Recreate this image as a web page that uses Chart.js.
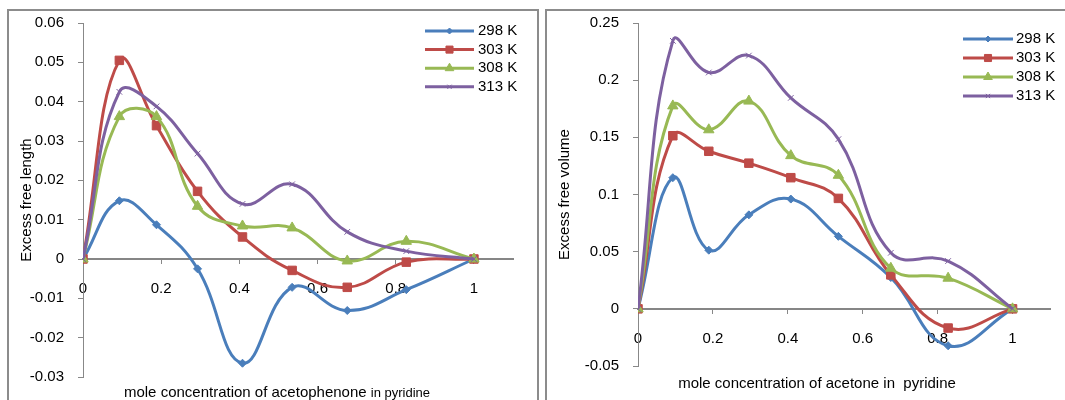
<!DOCTYPE html>
<html>
<head>
<meta charset="utf-8">
<script src="https://cdn.jsdelivr.net/npm/chart.js"></script>
<style>
  body {
    margin: 0;
    background: #fff;
    width: 1065px;
    height: 400px;
    overflow: hidden;
    position: relative;
    font-family: "Liberation Sans", Arial, sans-serif;
  }
  .frame {
    position: absolute;
    border: 2px solid #8c8c8c;
    border-bottom: none;
  }
  #frame-left { left: 7px; top: 9px; width: 528px; height: 400px; }
  #frame-right { left: 545px; top: 9px; width: 600px; height: 400px; }
  canvas { position: absolute; top: 0; }
  #chart-left { left: 0; }
  #chart-right { left: 540px; }
  .xtitle {
    position: absolute;
    font-size: 15px;
    white-space: nowrap;
    transform: translate(-50%, -50%);
    color: #000;
  }
</style>
</head>
<body>
<div class="frame" id="frame-left"></div>
<div class="frame" id="frame-right"></div>
<canvas id="chart-left" width="540" height="400"></canvas>
<canvas id="chart-right" width="525" height="400"></canvas>
<div class="xtitle" style="left:277px; top:391px;">mole concentration of acetophenone <span style="font-size:13px">in pyridine</span></div>
<div class="xtitle" style="left:817px; top:382px;">mole concentration of acetone in&nbsp; pyridine</div>

<script>
// left chart: excess free length vs mole fraction of acetophenone
const xLeft = [0, 0.093, 0.188, 0.293, 0.408, 0.535, 0.676, 0.827, 1];
const length298 = [0, 0.0148, 0.0087, -0.0025, -0.0265, -0.0072, -0.0131, -0.0078, 0];
const length303 = [0, 0.0505, 0.0339, 0.0172, 0.0056, -0.0029, -0.0072, -0.0008, 0];
const length308 = [0, 0.0362, 0.0362, 0.0134, 0.0084, 0.0079, -0.0005, 0.0045, 0];
const length313 = [0, 0.0425, 0.0388, 0.0268, 0.014, 0.019, 0.0069, 0.002, 0];

// right chart: excess free volume vs mole fraction of acetone
const xRight = [0, 0.093, 0.189, 0.296, 0.408, 0.535, 0.675, 0.828, 1];
const volume298 = [0, 0.1147, 0.0513, 0.0822, 0.096, 0.0634, 0.0274, -0.0323, 0];
const volume303 = [0, 0.1514, 0.1378, 0.1274, 0.1147, 0.0966, 0.0297, -0.0168, 0];
const volume308 = [0, 0.1775, 0.1566, 0.1817, 0.134, 0.1168, 0.0355, 0.0268, 0];
const volume313 = [0, 0.2344, 0.2067, 0.2215, 0.1845, 0.1484, 0.049, 0.0418, 0];

const seriesNames = ["298 K", "303 K", "308 K", "313 K"];

const lineColors = ["#4A7EBB", "#BE4B48", "#98B954", "#7D60A0"];
const pointStyles = ["rectRot", "rect", "triangle", "crossRot"];
const pointSizes = [4, 6, 6, 4];
const FONT = '"Liberation Sans", Arial, sans-serif';

Chart.defaults.font.family = FONT;
Chart.defaults.font.size = 15;
Chart.defaults.color = "#000";

const fmt = (v) => String(Math.round(v * 1000) / 1000);

// Excel style legend, stacked in the top right corner
const sketchLegend = {
  id: "sketchLegend",
  afterDraw(chart, args, opts) {
    const ctx = chart.ctx;
    ctx.save();
    chart.data.datasets.forEach((ds, i) => {
      const y = opts.top + i * opts.rowGap;
      ctx.strokeStyle = ds.borderColor;
      ctx.lineWidth = 3;
      ctx.beginPath();
      ctx.moveTo(opts.lineStart, y);
      ctx.lineTo(opts.lineStart + opts.lineLength, y);
      ctx.stroke();
      if (Chart.helpers && Chart.helpers.drawPoint) {
        ctx.fillStyle = ds.borderColor;
        ctx.lineWidth = 1;
        Chart.helpers.drawPoint(
          ctx,
          { pointStyle: ds.pointStyle, radius: ds.pointRadius - 1, rotation: 0, borderWidth: 1 },
          opts.lineStart + opts.lineLength / 2,
          y
        );
      }
      ctx.fillStyle = "#000";
      ctx.font = "15px " + FONT;
      ctx.textBaseline = "middle";
      ctx.textAlign = "left";
      ctx.fillText(ds.label, opts.textX, y);
    });
    ctx.restore();
  },
};

function makeDatasets(xs, seriesList) {
  return seriesList.map((ys, i) => ({
    label: seriesNames[i],
    data: xs.map((x, j) => ({ x: x, y: ys[j] })),
    borderColor: lineColors[i],
    backgroundColor: lineColors[i],
    borderWidth: 3,
    pointStyle: pointStyles[i],
    pointRadius: pointSizes[i],
    pointBorderWidth: 1,
    pointBackgroundColor: lineColors[i],
    pointBorderColor: lineColors[i],
    tension: 0.42,
    fill: false,
    order: 4 - i,
  }));
}

function loadChart(canvasId, datasets, cfg) {
  const ctx = document.getElementById(canvasId).getContext("2d");
  return new Chart(ctx, {
    type: "line",
    data: { datasets: datasets },
    plugins: [sketchLegend],
    options: {
      responsive: false,
      animation: false,
      devicePixelRatio: 1,
      layout: {
        padding: { top: 19, bottom: cfg.padBottom, right: cfg.padRight, left: 0 },
      },
      plugins: {
        legend: { display: false },
        tooltip: { enabled: false },
        sketchLegend: cfg.legend,
      },
      scales: {
        x: {
          type: "linear",
          min: 0,
          max: 1.1,
          position: { y: 0 },
          ticks: {
            stepSize: 0.2,
            includeBounds: false,
            padding: 17,
            maxRotation: 0,
            callback: fmt,
          },
          grid: { drawOnChartArea: false, tickLength: 4, color: "#888" },
          border: { color: "#868686", width: 2 },
        },
        y: {
          type: "linear",
          min: cfg.yMin,
          max: cfg.yMax,
          ticks: { stepSize: cfg.yStep, padding: 14, callback: fmt },
          grid: { drawOnChartArea: false, tickLength: 5, color: "#888" },
          border: { color: "#888", width: 1 },
          title: {
            display: true,
            text: cfg.yTitle,
            font: { size: 15 },
            padding: { top: cfg.yTitlePad, bottom: 0 },
          },
          afterFit: (scale) => {
            scale.width = cfg.axisLeft;
          },
        },
      },
    },
  });
}

loadChart("chart-left", makeDatasets(xLeft, [length298, length303, length308, length313]), {
  yMin: -0.03,
  yMax: 0.06,
  yStep: 0.01,
  yTitle: "Excess free length",
  yTitlePad: 18,
  axisLeft: 83,
  padBottom: 23,
  padRight: 27,
  legend: { lineStart: 425, lineLength: 49, top: 31, rowGap: 18.6, textX: 478 },
});

loadChart("chart-right", makeDatasets(xRight, [volume298, volume303, volume308, volume313]), {
  yMin: -0.05,
  yMax: 0.25,
  yStep: 0.05,
  yTitle: "Excess free volume",
  yTitlePad: 16,
  axisLeft: 98,
  padBottom: 34,
  padRight: 15,
  legend: { lineStart: 423, lineLength: 50, top: 39, rowGap: 19, textX: 476 },
});
</script>
</body>
</html>
